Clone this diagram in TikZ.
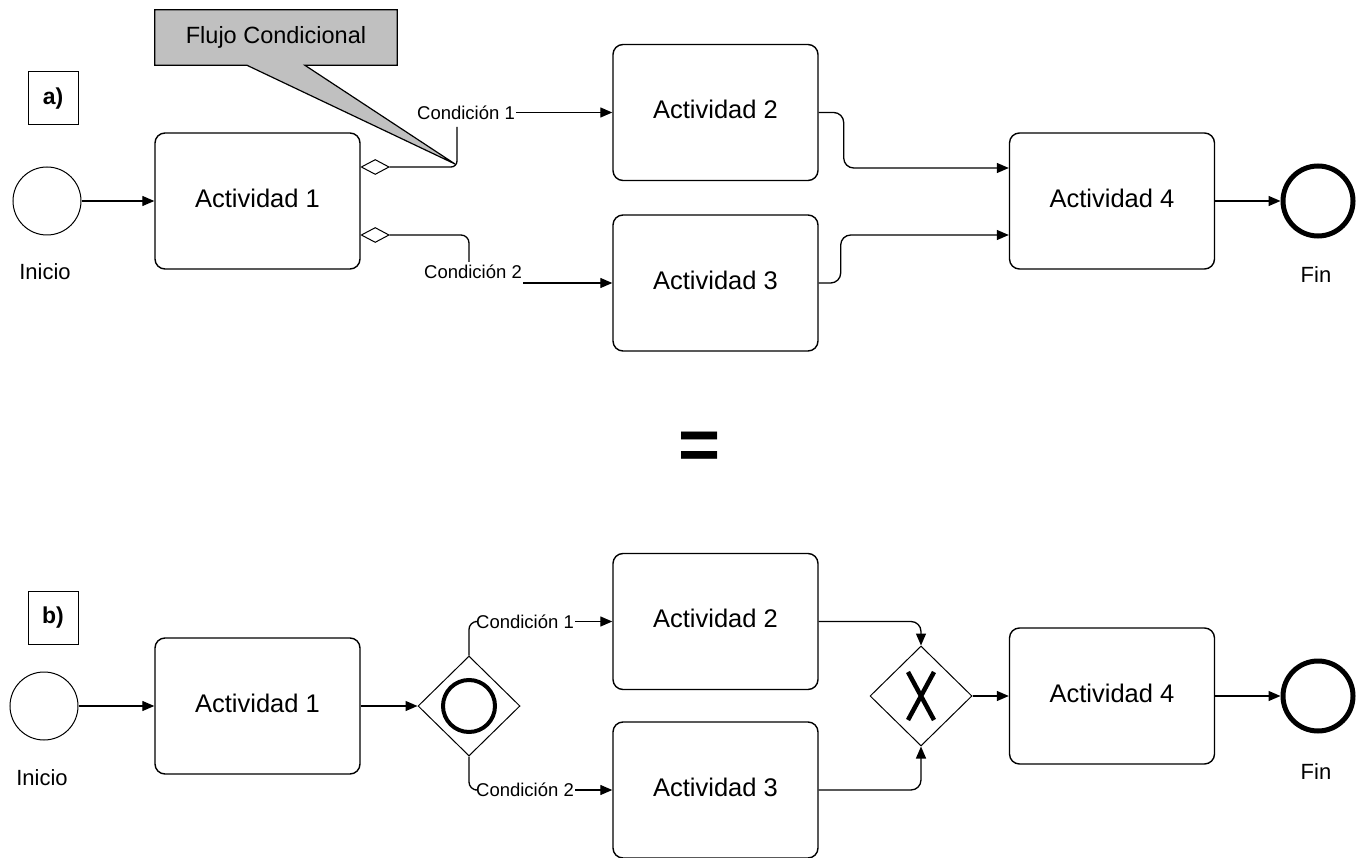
\documentclass[tikz,border=0pt]{standalone}
\usepackage{fontspec}
\setmainfont{Liberation Sans}
\usetikzlibrary{arrows.meta,shapes.geometric,calc,backgrounds}

\definecolor{notegray}{RGB}{192,192,192}

\begin{document}
\begin{tikzpicture}[x=1pt,y=-1pt,
  task/.style={draw, line width=1.4pt, rounded corners=10pt, minimum width=205pt,
    minimum height=136pt, inner sep=0pt, text depth=6pt,
    font=\fontsize{25.5}{25.5}\selectfont},
  startev/.style={circle, draw, line width=1pt, minimum size=68pt, inner sep=0pt},
  endev/.style={circle, draw, line width=5pt, minimum size=70pt, inner sep=0pt},
  evlabel/.style={inner sep=0pt, font=\fontsize{22}{22}\selectfont},
  lbl/.style={inner sep=1pt, font=\fontsize{18.5}{18.5}\selectfont},
  tag/.style={draw, line width=1pt, minimum width=50pt, minimum height=53pt,
    inner sep=0pt, font=\fontsize{23}{23}\selectfont\bfseries},
  cdiam/.style={diamond, draw, fill=white, line width=1pt, minimum width=28pt,
    minimum height=15pt, inner sep=0pt},
  gw/.style={diamond, draw, line width=1pt, minimum width=102pt,
    minimum height=100pt, inner sep=0pt},
  conn/.style={line width=1.3pt},
  flow/.style={line width=1.3pt, -{Triangle[length=12pt,width=10pt]}},
  callout/.style={minimum width=242pt, minimum height=55pt, inner sep=0pt,
    font=\fontsize{23.5}{23.5}\selectfont}
]
\useasboundingbox (0,0) rectangle (1365,858);

% ---------- a) conditional sequence flows ----------
\node[tag] (ta) at (53,98.5) {a)};
\node[startev] (sa) at (47,201) {};
\node[evlabel] (sal) at (45,272) {Inicio};
\node[task] (a1a) at (257.5,201) {Actividad 1};
\node[task] (a2a) at (715.5,112.5) {Actividad 2};
\node[task] (a3a) at (715.5,283) {Actividad 3};
\node[task] (a4a) at (1112,201) {Actividad 4};
\node[endev] (ea) at (1318,201) {};
\node[evlabel] (eal) at (1316,275) {Fin};

\node[cdiam, anchor=west] (d1a) at ($(a1a.east)+(0,-34)$) {};
\node[cdiam, anchor=west] (d2a) at ($(a1a.east)+(0,34)$) {};

\node[lbl] (c1a) at (466,112.5) {Condición 1};
\node[lbl] (c2a) at (473,272) {Condición 2};

\draw[flow] (sa.east) -- (a1a.west);
\draw[conn, rounded corners=6pt] (d1a.east) -| (457,127);
\draw[flow] (c1a.east) -- (a2a.west);
\draw[conn, rounded corners=8pt] (d2a.east) -| (469,262);
\draw[flow] (a3a.west -| c2a.east) -- (a3a.west);
\draw[flow, rounded corners=10pt] (a2a.east) -- ++(25,0) |- ($(a4a.west)+(0,-33)$);
\draw[flow, rounded corners=10pt] (a3a.east) -- ++(22,0) |- ($(a4a.west)+(0,34)$);
\draw[flow] (a4a.east) -- (ea.west);

% annotation callout
\node[callout] (note) at (276,37.5) {Flujo Condicional};
\coordinate (tip) at (455,164);
\begin{scope}[on background layer]
  \draw[line width=1.2pt, fill=notegray, line join=miter]
    (note.north west) -- (note.north east) -- (note.south east)
    -- ($(note.south west)+(150,0)$) -- (tip)
    -- ($(note.south west)+(92,0)$) -- (note.south west) -- cycle;
\end{scope}

% equivalence sign
\node[inner sep=0pt, font=\fontsize{72}{72}\selectfont\bfseries] (eq) at (700,451) {=};

% ---------- b) inclusive gateway ----------
\node[tag] (tb) at (53,617.5) {b)};
\node[startev] (sb) at (44,706) {};
\node[evlabel] (sbl) at (42,778) {Inicio};
\node[task] (a1b) at (257.5,706) {Actividad 1};
\node[gw] (g1) at (469,706) {};
\draw[line width=4pt] (g1.center) circle (26pt);
\node[task] (a2b) at (715.5,621.5) {Actividad 2};
\node[task] (a3b) at (715.5,790) {Actividad 3};
\node[gw] (x1) at (921,696) {};
\draw[line width=4.5pt] (908,672) -- (934,720) (934,672) -- (908,720);
\node[task] (a4b) at (1112,696) {Actividad 4};
\node[endev] (eb) at (1318,696) {};
\node[evlabel] (ebl) at (1316,772) {Fin};

\node[lbl] (c1b) at (525,621.5) {Condición 1};
\node[lbl] (c2b) at (525,790) {Condición 2};

\draw[flow] (sb.east) -- (a1b.west);
\draw[flow] (a1b.east) -- (g1.west);
\draw[conn, rounded corners=8pt] (g1.north) |- (c1b.west);
\draw[flow] (c1b.east) -- (a2b.west);
\draw[conn, rounded corners=8pt] (g1.south) |- (c2b.west);
\draw[flow] (c2b.east) -- (a3b.west);
\draw[flow, rounded corners=10pt] (a2b.east) -| (x1.north);
\draw[flow, rounded corners=10pt] (a3b.east) -| (x1.south);
\draw[flow] (x1.east) -- (a4b.west);
\draw[flow] (a4b.east) -- (eb.west);
\end{tikzpicture}
\end{document}
